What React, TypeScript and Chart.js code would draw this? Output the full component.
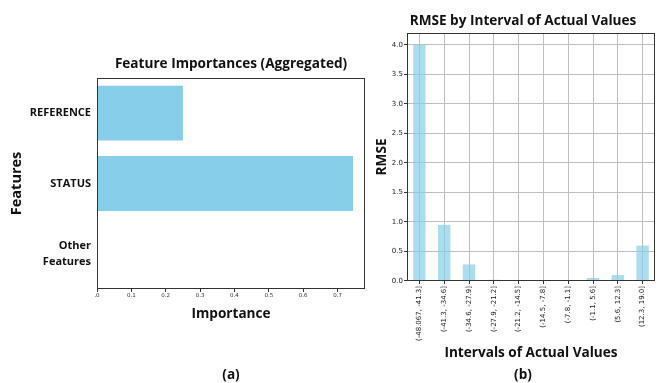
import React, { useEffect, useRef } from 'react';
import { Chart, registerables } from 'chart.js';

Chart.register(...registerables);

// ---- Data ----
const featureLabels: (string | string[])[] = ['REFERENCE', 'STATUS', ['Other', 'Features']];
const featureImportance = [0.25, 0.745, 0];
const importanceTickLabels = ['.0', '0.1', '0.2', '0.3', '0.4', '0.5', '0.6', '0.7'];

const intervalLabels = [
  '(-48.067, -41.3]',
  '(-41.3, -34.6]',
  '(-34.6, -27.9]',
  '(-27.9, -21.2]',
  '(-21.2, -14.5]',
  '(-14.5, -7.8]',
  '(-7.8, -1.1]',
  '(-1.1, 5.6]',
  '(5.6, 12.3]',
  '(12.3, 19.0]',
];
const rmseValues = [4.0, 0.95, 0.28, 0.02, 0, 0, 0, 0.05, 0.1, 0.6];
const rmseTickLabels = ['0.0', '0.5', '1.0', '1.5', '2.0', '2.5', '3.0', '3.5', '4.0'];

const BOLD = 'Open Sans';
const TICK = 'DejaVu Sans';
const TEXT = '#111111';
const AXIS = '#333333';

const framePlugin = {
  id: 'frame',
  afterDatasetsDraw(chart: any) {
    const { ctx, chartArea } = chart;
    const l = Math.round(chartArea.left) + 0.5;
    const r = Math.round(chartArea.right) - 0.5;
    const t = Math.round(chartArea.top) + 0.5;
    const b = Math.round(chartArea.bottom) - 0.5;
    ctx.save();
    ctx.strokeStyle = AXIS;
    ctx.lineWidth = 1;
    ctx.strokeRect(l, t, r - l, b - t);
    ctx.restore();
  },
};

const titleFont = { family: BOLD, size: 13.6, weight: 'bold' as const, lineHeight: 1.2 };

export default function App() {
  const leftRef = useRef<HTMLCanvasElement>(null);
  const rightRef = useRef<HTMLCanvasElement>(null);

  useEffect(() => {
    const left = new Chart(leftRef.current as HTMLCanvasElement, {
      type: 'bar',
      data: {
        labels: featureLabels as any,
        datasets: [
          {
            data: featureImportance,
            backgroundColor: '#87CEEB',
            borderWidth: 0,
            barPercentage: 0.78,
            categoryPercentage: 1,
          },
        ],
      },
      options: {
        indexAxis: 'y',
        responsive: false,
        animation: false,
        layout: { padding: { left: 0, right: 5, top: 0, bottom: 0 } },
        plugins: {
          legend: { display: false },
          tooltip: { enabled: false },
          title: {
            display: true,
            text: 'Feature Importances (Aggregated)',
            fullSize: false,
            color: TEXT,
            font: titleFont,
            padding: { top: 55.8, bottom: 5.8 },
          },
          subtitle: {
            display: true,
            position: 'bottom',
            text: '(a)',
            fullSize: false,
            color: TEXT,
            font: titleFont,
            padding: { top: 0, bottom: 0 },
          },
        },
        scales: {
          x: {
            type: 'linear',
            min: 0,
            max: 0.78,
            afterFit: (s: any) => {
              s.height = 77.7;
            },
            ticks: {
              stepSize: 0.1,
              includeBounds: false,
              padding: 0,
              color: AXIS,
              font: { family: TICK, size: 5.5 },
              callback: (_v: any, i: number) => importanceTickLabels[i] ?? '',
            },
            grid: { drawOnChartArea: false, tickLength: 3, color: AXIS },
            border: { display: false },
            title: {
              display: true,
              text: 'Importance',
              color: TEXT,
              font: titleFont,
              padding: { top: 0, bottom: 44.5 },
            },
          },
          y: {
            afterFit: (s: any) => {
              s.width = 97;
            },
            ticks: {
              padding: 6,
              color: TEXT,
              font: { family: BOLD, size: 11, weight: 'bold', lineHeight: 1.4 },
            },
            grid: { drawOnChartArea: false, drawTicks: false },
            border: { display: false },
            title: {
              display: true,
              text: 'Features',
              color: TEXT,
              font: { family: BOLD, size: 14.5, weight: 'bold', lineHeight: 1.2 },
              padding: { top: 8.3, bottom: 0 },
            },
          },
        },
      },
      plugins: [framePlugin],
    });

    const right = new Chart(rightRef.current as HTMLCanvasElement, {
      type: 'bar',
      data: {
        labels: intervalLabels,
        datasets: [
          {
            data: rmseValues,
            backgroundColor: 'rgba(135, 206, 235, 0.7)',
            borderWidth: 0,
            barPercentage: 0.5,
            categoryPercentage: 1,
          },
        ],
      },
      options: {
        responsive: false,
        animation: false,
        layout: { padding: { left: 21, right: 6, top: 0, bottom: 0 } },
        plugins: {
          legend: { display: false },
          tooltip: { enabled: false },
          title: {
            display: true,
            text: 'RMSE by Interval of Actual Values',
            fullSize: true,
            color: TEXT,
            font: titleFont,
            padding: { top: 12.8, bottom: 3.8 },
          },
          subtitle: {
            display: true,
            position: 'bottom',
            text: '(b)',
            fullSize: true,
            color: TEXT,
            font: titleFont,
            padding: { top: 0, bottom: 0 },
          },
        },
        scales: {
          x: {
            type: 'category',
            afterFit: (s: any) => {
              s.height = 85.7;
            },
            ticks: {
              autoSkip: false,
              minRotation: 90,
              maxRotation: 90,
              padding: 2,
              color: '#222222',
              font: { family: TICK, size: 7 },
            },
            grid: {
              offset: false,
              drawOnChartArea: true,
              color: '#bdbdbd',
              tickColor: AXIS,
              tickLength: 3,
            },
            border: { display: false },
            title: {
              display: true,
              text: 'Intervals of Actual Values',
              color: TEXT,
              font: titleFont,
              padding: { top: 0, bottom: 5.5 },
            },
          },
          y: {
            type: 'linear',
            min: 0,
            max: 4.2,
            afterFit: (s: any) => {
              s.width = 16;
            },
            ticks: {
              stepSize: 0.5,
              includeBounds: false,
              padding: 1,
              color: '#222222',
              font: { family: TICK, size: 7 },
              callback: (_v: any, i: number) => rmseTickLabels[i] ?? '',
            },
            grid: { color: '#bdbdbd', tickColor: AXIS, tickLength: 3 },
            border: { display: false },
            title: {
              display: true,
              text: 'RMSE',
              color: TEXT,
              font: titleFont,
              padding: { top: -17.2, bottom: 0 },
            },
          },
        },
      },
      plugins: [framePlugin],
    });

    return () => {
      left.destroy();
      right.destroy();
    };
  }, []);

  return (
    <div
      style={{
        position: 'absolute',
        left: 0,
        top: 0,
        width: 661,
        height: 383,
        background: '#ffffff',
        overflow: 'hidden',
      }}
    >
      <canvas
        ref={leftRef}
        width={370}
        height={383}
        style={{ position: 'absolute', left: 0, top: 0, width: 370, height: 383 }}
      />
      <canvas
        ref={rightRef}
        width={291}
        height={383}
        style={{ position: 'absolute', left: 370, top: 0, width: 291, height: 383 }}
      />
    </div>
  );
}
